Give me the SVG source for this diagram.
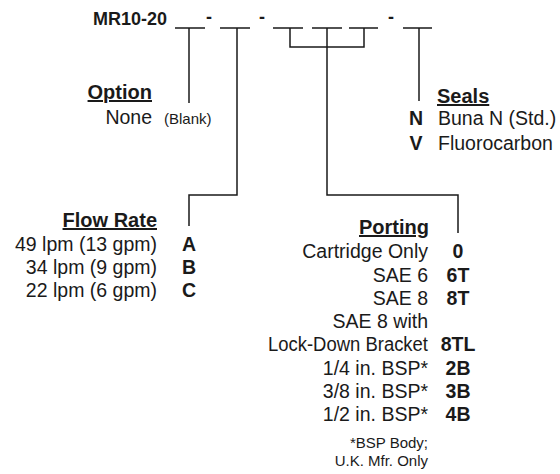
<svg xmlns="http://www.w3.org/2000/svg" width="560" height="474" viewBox="0 0 560 474">
<style>
text{font-family:"Liberation Sans",Arial,Helvetica,sans-serif;fill:#1a1a1a}
.t{font-size:18px;font-weight:bold}
.h{font-size:20px;font-weight:bold;text-decoration:underline}
.r{font-size:19.5px}
.b{font-size:19.5px;font-weight:bold}
.s{font-size:15px}
.e{text-anchor:end}
.m{text-anchor:middle}
.ln{stroke:#1a1a1a;stroke-width:1.5;fill:none}
</style>
<rect width="560" height="474" fill="#fff"/>
<g id="model">
<text class="t" x="93" y="25">MR10-20</text>
<text class="t m" x="209" y="23">-</text>
<text class="t m" x="262" y="23">-</text>
<text class="t m" x="391" y="23">-</text>
</g>
<g id="connectors" class="ln">
<path d="M175 28H205M220 28H250M273 28H303M312 28H342M349 28H378M403 28H432"/>
<path d="M189 28V103"/>
<path d="M237 28V195H189V226"/>
<path d="M290 28V47H364V28"/>
<path d="M327 28V195H458V233"/>
<path d="M419 28V101"/>
</g>
<g id="option">
<text class="h e" x="152" y="99">Option</text>
<text class="r e" x="152" y="124">None</text>
<text class="s" x="164" y="124">(Blank)</text>
</g>
<g id="seals">
<text class="h" x="437" y="103">Seals</text>
<text class="b m" x="416" y="125">N</text>
<text class="r" x="438" y="125">Buna N (Std.)</text>
<text class="b m" x="416" y="150">V</text>
<text class="r" x="438" y="150">Fluorocarbon</text>
</g>
<g id="flow-rate">
<text class="h e" x="157" y="227">Flow Rate</text>
<text class="r e" x="157" y="251">49 lpm (13 gpm)</text>
<text class="b m" x="189" y="251">A</text>
<text class="r e" x="157" y="274">34 lpm (9 gpm)</text>
<text class="b m" x="189" y="274">B</text>
<text class="r e" x="157" y="297">22 lpm (6 gpm)</text>
<text class="b m" x="189" y="297">C</text>
</g>
<g id="porting">
<text class="h e" x="429" y="234">Porting</text>
<text class="r e" x="428" y="258">Cartridge Only</text>
<text class="b m" x="458" y="258">0</text>
<text class="r e" x="428" y="282">SAE 6</text>
<text class="b m" x="458" y="282">6T</text>
<text class="r e" x="428" y="305">SAE 8</text>
<text class="b m" x="458" y="305">8T</text>
<text class="r e" x="428" y="328">SAE 8 with</text>
<text class="r e" x="428" y="351" textLength="160" lengthAdjust="spacingAndGlyphs">Lock-Down Bracket</text>
<text class="b m" x="458" y="351">8TL</text>
<text class="r e" x="428" y="375">1/4 in. BSP*</text>
<text class="b m" x="458" y="375">2B</text>
<text class="r e" x="428" y="398">3/8 in. BSP*</text>
<text class="b m" x="458" y="398">3B</text>
<text class="r e" x="428" y="421">1/2 in. BSP*</text>
<text class="b m" x="458" y="421">4B</text>
<text class="s e" x="428" y="448">*BSP Body;</text>
<text class="s e" x="428" y="466">U.K. Mfr. Only</text>
</g>
</svg>
